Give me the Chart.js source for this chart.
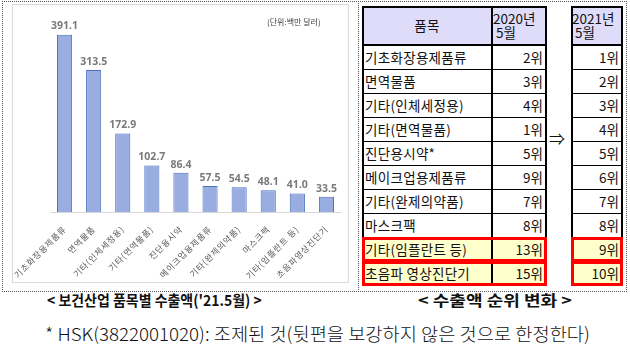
<!DOCTYPE html>
<html>
<head>
<meta charset="utf-8">
<script src="https://cdn.jsdelivr.net/npm/chart.js@4.4.1/dist/chart.umd.min.js"></script>
<style>
  html, body { margin: 0; padding: 0; background: #fff; }
  body { width: 630px; height: 354px; position: relative; overflow: hidden;
         font-family: "Noto Sans CJK KR", "Noto Sans", sans-serif; }
  .abs { position: absolute; box-sizing: border-box; }
  .dot { border: 1px dotted #555; }
  .txt { position: absolute; white-space: nowrap; transform-origin: 0 50%; }
  .cell { position: absolute; box-sizing: border-box; font-size: 13.5px; line-height: 24px;
          color: #111; white-space: nowrap; letter-spacing: 0.3px; }
</style>
</head>
<body>
<div class="abs dot" style="left:2px;top:1px;width:357px;height:291px;"></div>
<div class="abs dot" style="left:358px;top:1px;width:269px;height:291px;"></div>
<div class="abs" style="left:12px;top:4px;width:337px;height:279px;border:1px solid #d9d9d9;"></div>
<canvas id="barChart" width="358" height="288" style="position:absolute;left:0;top:0;"></canvas>
<div class="txt" style="left:267px;top:16px;font-size:8px;color:#404040;">(단위:백만 달러)</div>
<div id="tables"></div>
<div class="txt fit" data-x="47" data-w="215" style="top:289px;font-size:15px;font-weight:bold;color:#111;">&lt; 보건산업 품목별 수출액('21.5월) &gt;</div>
<div class="txt fit" data-x="418" data-w="154" style="top:289px;font-size:15px;font-weight:bold;color:#111;">&lt; 수출액 순위 변화 &gt;</div>
<div class="txt fit" data-x="45" data-w="545" style="top:320px;font-size:18px;font-weight:300;color:#111;">* HSK(3822001020): 조제된 것(뒷편을 보강하지 않은 것으로 한정한다)</div>
<script>
// 보건산업 품목별 수출액 ('21.5월, 백만 달러)
const categories = ["기초화장용제품류", "면역물품", "기타(인체세정용)", "기타(면역물품)", "진단용시약",
  "메이크업용제품류", "기타(완제의약품)", "마스크팩", "기타(임플란트 등)", "초음파영상진단기"];
const exportValues = [391.1, 313.5, 172.9, 102.7, 86.4, 57.5, 54.5, 48.1, 41.0, 33.5];

// 수출액 순위 변화
const tableItems = ["기초화장용제품류", "면역물품", "기타(인체세정용)", "기타(면역물품)", "진단용시약*",
  "메이크업용제품류", "기타(완제의약품)", "마스크팩", "기타(임플란트 등)", "초음파 영상진단기"];
const rank2020 = [2, 3, 4, 1, 5, 9, 7, 8, 13, 15];
const rank2021 = [1, 2, 3, 4, 5, 6, 7, 8, 9, 10];
const highlightRows = [8, 9];

// spaced-out tick labels like the original
const spacing = {
  id: "spacing",
  beforeDraw(chart) { chart.ctx.letterSpacing = "0.8px"; },
  afterDraw(chart) { chart.ctx.letterSpacing = "0px"; }
};

// value labels above the bars
const valueLabels = {
  id: "valueLabels",
  afterDatasetsDraw(chart) {
    const ctx = chart.ctx;
    ctx.save();
    ctx.letterSpacing = "0px";
    ctx.font = "bold 10.5px 'Noto Sans', sans-serif";
    ctx.fillStyle = "#7a7a7a";
    ctx.textAlign = "center";
    ctx.textBaseline = "bottom";
    chart.getDatasetMeta(0).data.forEach((bar, i) => {
      ctx.fillText(exportValues[i].toFixed(1), bar.x, bar.y - 3);
    });
    ctx.restore();
  }
};

new Chart(document.getElementById("barChart"), {
  type: "bar",
  data: {
    labels: categories,
    datasets: [{
      data: exportValues,
      backgroundColor: "#9aade0",
      borderColor: "#4a70c2",
      borderWidth: { left: 1, right: 1, top: 1, bottom: 0 },
      barPercentage: 0.52,
      categoryPercentage: 1
    }]
  },
  options: {
    responsive: false,
    animation: false,
    devicePixelRatio: 1,
    layout: { padding: { left: 50, right: 17, top: 8, bottom: 6 } },
    plugins: { legend: { display: false }, tooltip: { enabled: false } },
    scales: {
      y: { display: false, min: 0, max: 450 },
      x: {
        grid: { display: false },
        border: { color: "#d9d9d9" },
        afterFit: (s) => { s.height = 70; },
        ticks: {
          autoSkip: false, minRotation: 45, maxRotation: 45, padding: 4,
          color: "#595959",
          font: { family: "'Noto Sans CJK KR', sans-serif", size: 8.5 }
        }
      }
    }
  },
  plugins: [spacing, valueLabels]
});

// rank tables
const wrap = document.getElementById("tables");
function box(x, y, w, h, style, html) {
  const d = document.createElement("div");
  d.className = "cell";
  d.style.left = x + "px"; d.style.top = y + "px";
  d.style.width = w + "px"; d.style.height = h + "px";
  d.setAttribute("style", d.getAttribute("style") + ";" + (style || ""));
  if (html !== undefined) d.innerHTML = html;
  wrap.appendChild(d);
  return d;
}
const headTop = 6, headH = 39, rowH = 24;
const t1L = 362, t1M = 492, t1R = 547, t2L = 571, t2R = 623;
const bodyTop = headTop + headH;
const bottom = bodyTop + rowH * tableItems.length;
// headers
box(t1L, headTop, t1M - t1L, headH, "background:#dedcf8;text-align:center;line-height:" + headH + "px;", "품목");
box(t1M, headTop, t1R - t1M, headH, "background:#dedcf8;line-height:14px;padding:5px 0 0 1px;letter-spacing:0;", "2020년<br>&nbsp;5월");
box(t2L, headTop, t2R - t2L, headH, "background:#dedcf8;line-height:14px;padding:5px 0 0 1px;letter-spacing:0;", "2021년<br>&nbsp;5월");
// rows
tableItems.forEach((name, i) => {
  const y = bodyTop + i * rowH;
  const bg = highlightRows.includes(i) ? "#ffffcc" : "#fff";
  box(t1L, y, t1M - t1L, rowH, "background:" + bg + ";padding-left:3px;", name);
  box(t1M, y, t1R - t1M, rowH, "background:" + bg + ";text-align:right;padding-right:4px;letter-spacing:0;", rank2020[i] + "위");
  box(t2L, y, t2R - t2L, rowH, "background:" + bg + ";text-align:right;padding-right:4px;letter-spacing:0;", rank2021[i] + "위");
  if (i > 0) {
    box(t1L, y, t1R - t1L, 1, "background:#000;");
    box(t2L, y, t2R - t2L, 1, "background:#000;");
  }
});
// table lines
box(t1L, headTop, t1R - t1L, bottom - headTop + 1, "border:2px solid #000;");
box(t2L, headTop, t2R - t2L, bottom - headTop + 1, "border:2px solid #000;");
box(t1L, bodyTop - 1, t1R - t1L, 2, "background:#000;");
box(t2L, bodyTop - 1, t2R - t2L, 2, "background:#000;");
box(t1M - 1, headTop, 2, bottom - headTop + 1, "background:#000;");
// highlighted rows
highlightRows.forEach((i) => {
  const y = bodyTop + i * rowH;
  box(t1L, y, t1R - t1L, rowH + 1, "border:3px solid #ff0000;");
  box(t2L, y, t2R - t2L, rowH + 1, "border:3px solid #ff0000;");
});
box(549, bodyTop + 4 * rowH - 13, 24, 20, "font-size:16px;line-height:20px;letter-spacing:0;", "⇒");

// fit caption widths
document.querySelectorAll(".fit").forEach((el) => {
  const x = +el.dataset.x, w = +el.dataset.w;
  el.style.left = x + "px";
  el.style.transform = "scaleX(" + (w / el.offsetWidth) + ")";
});
</script>
</body>
</html>
